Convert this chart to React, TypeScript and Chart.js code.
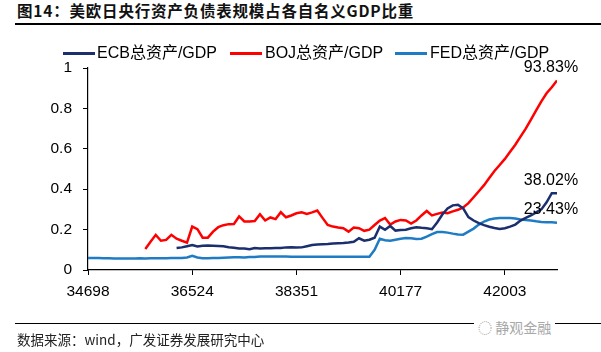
import React, { useEffect, useRef } from "react";
import { Chart, registerables } from "chart.js";

Chart.register(...registerables);

const seriesNames = ["ECB总资产/GDP", "BOJ总资产/GDP", "FED总资产/GDP"];
const seriesColors = ["#1B2F6E", "#FF0000", "#1F7CC4"];
const xTickLabels = ["34698", "36524", "38351", "40177", "42003"];
const xTickIndex = [0, 20, 40, 60, 80];
const yTickLabels = ["0", "0.2", "0.4", "0.6", "0.8", "1"];
const lastIndex = 90;

const ecbValues = [
  null, null, null, null, null, null, null, null, null, null,
  null, null, null, null, null, null, null, 0.109, 0.112, 0.118,
  0.124, 0.116, 0.120, 0.121, 0.120, 0.119, 0.118, 0.113, 0.110, 0.106,
  0.106, 0.103, 0.109, 0.107, 0.108, 0.108, 0.109, 0.109, 0.112, 0.113,
  0.111, 0.112, 0.118, 0.124, 0.126, 0.128, 0.129, 0.131, 0.133, 0.134,
  0.136, 0.140, 0.157, 0.145, 0.150, 0.160, 0.215, 0.199, 0.218, 0.195,
  0.198, 0.199, 0.207, 0.212, 0.209, 0.207, 0.202, 0.235, 0.275, 0.305,
  0.320, 0.323, 0.305, 0.262, 0.245, 0.232, 0.222, 0.214, 0.208, 0.203,
  0.207, 0.215, 0.225, 0.245, 0.258, 0.270, 0.285, 0.300, 0.335, 0.380,
  0.3802,
];

const bojValues = [
  null, null, null, null, null, null, null, null, null, null,
  null, 0.104, 0.140, 0.174, 0.145, 0.149, 0.174, 0.155, 0.145, 0.135,
  0.215, 0.202, 0.160, 0.160, 0.190, 0.212, 0.222, 0.227, 0.228, 0.265,
  0.240, 0.240, 0.242, 0.276, 0.245, 0.260, 0.252, 0.286, 0.261, 0.270,
  0.281, 0.286, 0.278, 0.285, 0.294, 0.258, 0.223, 0.215, 0.210, 0.207,
  0.190, 0.210, 0.207, 0.194, 0.200, 0.223, 0.245, 0.257, 0.225, 0.240,
  0.248, 0.245, 0.230, 0.245, 0.270, 0.292, 0.270, 0.278, 0.284, 0.281,
  0.290, 0.298, 0.310, 0.331, 0.360, 0.390, 0.420, 0.455, 0.490, 0.520,
  0.550, 0.585, 0.620, 0.660, 0.700, 0.745, 0.790, 0.835, 0.875, 0.905,
  0.9383,
];

const fedValues = [
  0.060, 0.060, 0.059, 0.058, 0.058, 0.057, 0.057, 0.057, 0.057, 0.057,
  0.058, 0.057, 0.058, 0.058, 0.058, 0.058, 0.059, 0.059, 0.060, 0.062,
  0.070, 0.062, 0.058, 0.058, 0.059, 0.060, 0.061, 0.062, 0.063, 0.063,
  0.062, 0.064, 0.064, 0.067, 0.067, 0.067, 0.067, 0.067, 0.067, 0.066,
  0.066, 0.066, 0.066, 0.066, 0.066, 0.066, 0.065, 0.065, 0.065, 0.065,
  0.065, 0.065, 0.065, 0.065, 0.066, 0.100, 0.155, 0.147, 0.145, 0.150,
  0.155, 0.158, 0.157, 0.153, 0.155, 0.165, 0.178, 0.188, 0.188, 0.185,
  0.180, 0.176, 0.175, 0.190, 0.205, 0.225, 0.240, 0.250, 0.255, 0.257,
  0.258, 0.257, 0.255, 0.250, 0.247, 0.245, 0.241, 0.238, 0.237, 0.236,
  0.2343,
];

const seriesValues = [ecbValues, bojValues, fedValues];

const FONT = '"Liberation Sans", Arial, "Noto Sans CJK SC", sans-serif';

const endLabelPlugin = {
  id: "endLabels",
  afterDatasetsDraw(chart: any) {
    const ctx = chart.ctx;
    ctx.save();
    ctx.font = `16px ${FONT}`;
    ctx.fillStyle = "#000";
    ctx.textAlign = "center";
    ctx.textBaseline = "middle";
    chart.data.datasets.forEach((ds: any, i: number) => {
      const meta = chart.getDatasetMeta(i);
      const pt = meta.data[meta.data.length - 1];
      const v = ds.data[ds.data.length - 1].y;
      ctx.fillText((v * 100).toFixed(2) + "%", pt.x - 6, pt.y - 13);
    });
    ctx.restore();
  },
};

export default function App() {
  const ref = useRef<HTMLCanvasElement>(null);

  useEffect(() => {
    const datasets = seriesNames.map((name, si) => ({
      label: name,
      data: seriesValues[si].map((v, i) => ({ x: i, y: v })),
      borderColor: seriesColors[si],
      backgroundColor: seriesColors[si],
      borderWidth: 2.5,
      pointRadius: 0,
      tension: 0,
      spanGaps: false,
      fill: false,
    }));
    const chart = new Chart(ref.current!, {
      type: "line",
      data: { datasets },
      plugins: [endLabelPlugin],
      options: {
        animation: false,
        responsive: false,
        devicePixelRatio: 1,
        layout: { padding: { left: 0, top: 68, right: 44, bottom: 42 } },
        plugins: { legend: { display: false }, tooltip: { enabled: false }, title: { display: false } },
        scales: {
          x: {
            type: "linear",
            min: 0,
            max: lastIndex,
            afterBuildTicks: (s: any) => {
              s.ticks = xTickIndex.map((v) => ({ value: v }));
            },
            afterFit: (s: any) => {
              s.height = 40;
            },
            ticks: {
              autoSkip: false,
              maxRotation: 0,
              padding: 7,
              color: "#000",
              font: { size: 15.5, family: FONT },
              callback: (v: any) => {
                const k = xTickIndex.indexOf(Number(v));
                return k >= 0 ? xTickLabels[k] : "";
              },
            },
            grid: { display: true, drawOnChartArea: false, drawTicks: true, tickLength: 5, color: "#000", lineWidth: 1 },
            border: { display: true, color: "#000", width: 1.2 },
          },
          y: {
            min: 0,
            max: 1,
            afterFit: (s: any) => {
              s.width = 88;
            },
            ticks: {
              stepSize: 0.2,
              padding: 11,
              color: "#000",
              font: { size: 15.5, family: FONT },
              callback: (v: any) => yTickLabels[Math.round(Number(v) * 5)] ?? "",
            },
            grid: { display: true, drawOnChartArea: false, drawTicks: true, tickLength: 5, color: "#000", lineWidth: 1 },
            border: { display: true, color: "#000", width: 1.2 },
          },
        },
      },
    });
    return () => chart.destroy();
  }, []);

  const legendPos = [
    { line: 63, text: 97 },
    { line: 230, text: 265 },
    { line: 395, text: 430 },
  ];

  return (
    <div style={{ position: "absolute", left: 0, top: 0, width: 601, height: 352, background: "#fff", overflow: "hidden" }}>
      <div
        style={{
          position: "absolute",
          left: 17,
          top: 0,
          height: 21,
          lineHeight: "21px",
          fontFamily: '"Noto Sans CJK SC", sans-serif',
          fontWeight: "bold",
          fontSize: 15.5,
          letterSpacing: 0.8,
          color: "#111",
          whiteSpace: "nowrap",
        }}
      >
        图14：美欧日央行资产负债表规模占各自名义GDP比重
      </div>
      <div style={{ position: "absolute", left: 15, top: 22.5, width: 586, height: 2, background: "#000" }} />
      <canvas ref={ref} width={601} height={352} style={{ position: "absolute", left: 0, top: 0, width: 601, height: 352 }} />
      {seriesNames.map((name, i) => (
        <React.Fragment key={name}>
          <div style={{ position: "absolute", left: legendPos[i].line, top: 51.5, width: 32, height: 3, background: seriesColors[i] }} />
          <div
            style={{
              position: "absolute",
              left: legendPos[i].text,
              top: 43,
              height: 20,
              lineHeight: "20px",
              fontFamily: FONT,
              fontSize: 16,
              color: "#000",
              whiteSpace: "nowrap",
            }}
          >
            {name}
          </div>
        </React.Fragment>
      ))}
      <div style={{ position: "absolute", left: 15, top: 323, width: 586, height: 1, background: "#000" }} />
      <div
        style={{
          position: "absolute",
          left: 474,
          top: 316,
          height: 22,
          lineHeight: "22px",
          padding: "0 4px",
          background: "#fff",
          fontFamily: '"Noto Sans CJK SC", sans-serif',
          fontSize: 14,
          color: "#a8a8a8",
          whiteSpace: "nowrap",
        }}
      >
        ◌ 静观金融
      </div>
      <div
        style={{
          position: "absolute",
          left: 17,
          top: 329,
          height: 20,
          lineHeight: "20px",
          fontFamily: '"Noto Sans CJK SC", sans-serif',
          fontSize: 13.5,
          color: "#222",
          whiteSpace: "nowrap",
        }}
      >
        数据来源：wind，广发证券发展研究中心
      </div>
    </div>
  );
}
